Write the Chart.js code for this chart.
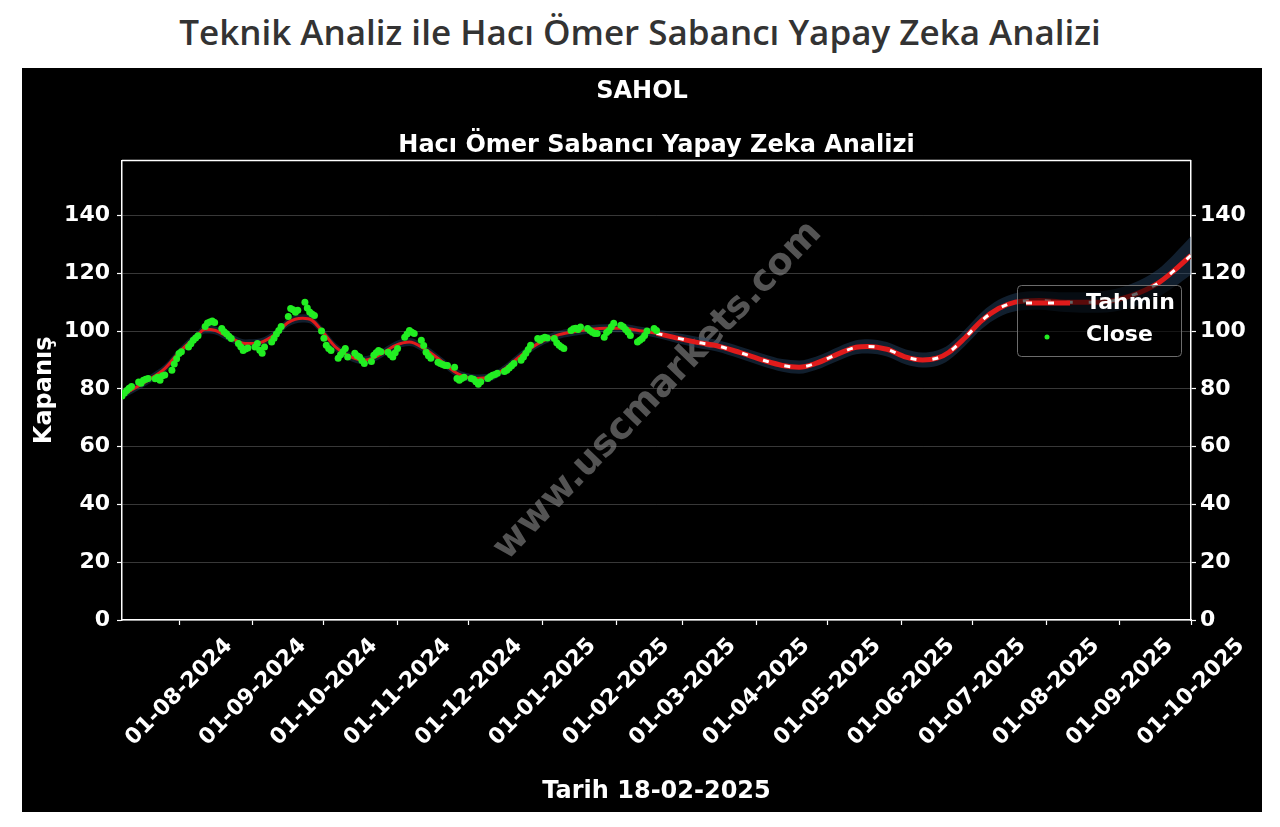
<!DOCTYPE html>
<html lang="tr">
<head>
<meta charset="utf-8">
<title>SAHOL Yapay Zeka Analizi</title>
<script src="https://cdn.jsdelivr.net/npm/chart.js@4.4.1/dist/chart.umd.min.js"></script>
<style>
  body { margin: 0; background: #fff; width: 1280px; height: 827px; overflow: hidden; }
  h1 { position: absolute; left: 0; top: 0; width: 1280px; margin: 0; text-align: center;
       font-family: 'Open Sans', sans-serif; font-weight: 600; font-size: 35px; line-height: 64px; color: #333; }
  #box { position: absolute; left: 22px; top: 68px; width: 1240px; height: 744px; background: #000; }
</style>
</head>
<body>
<h1>Teknik Analiz ile Hacı Ömer Sabancı Yapay Zeka Analizi</h1>
<div id="box"><canvas id="chart" width="1240" height="744"></canvas></div>
<script>
// close prices, one per trading day starting from closeStart
const closeStart = '2024-07-08'
const closeValues = [
  77.5, 78.6, 79.4, 80.2, 80.8,
  82.4, 81.9, 83.0, 83.3, 83.6,
  83.5, 84.0, 83.0, 84.5, 84.8,
  86.4, 88.6, 90.4, 92.2, 92.8,
  94.5, 95.6, 96.8, 97.6, 98.4,
  101.6, 102.8, 103.1, 103.5, 103.0,
  100.9, 99.8, 99.1, 98.2, 97.4,
  95.7, 94.6, 93.3, 93.8, 94.1,
  94.5, 95.7, 93.4, 92.3, 94.5,
  96.2, 97.5, 99.0, 100.2, 101.6,
  105.0, 107.8, 107.4, 106.5, 107.2,
  110.0, 108.0, 106.6, 105.9, 105.4,
  100.0, 97.5, 95.1, 94.0, 93.3,
  90.6, 91.8, 92.8, 94.0, 91.0,
  92.3, 91.5, 91.0, 89.8, 88.8,
  89.5, 91.6, 92.5, 93.3, 92.8,
  92.7, 91.8, 91.0, 92.5, 94.0,
  97.9, 99.0, 100.2, 99.6, 99.2,
  96.8, 95.0, 92.7, 91.5, 90.6,
  89.2, 88.8, 88.4, 88.1, 88.1,
  87.5, 83.6, 83.0, 83.6, 84.0,
  83.6, 83.3, 82.5, 81.6, 82.5,
  83.6, 84.2, 84.7, 85.0, 85.4,
  86.0, 86.4, 87.2, 88.0, 88.8,
  89.9, 91.0, 92.3, 93.6, 95.1,
  97.4, 96.8, 97.5, 97.9, 97.6,
  97.4, 96.0, 95.1, 94.5, 94.0,
  100.2, 100.8, 101.0, 100.5, 101.4,
  100.9, 100.2, 99.6, 99.2, 99.2,
  97.9, 99.5, 100.2, 101.5, 102.7,
  102.0, 101.5, 100.5, 99.7, 98.5,
  96.2, 96.8, 97.4, 98.5, 100.0,
  100.9, 100.2
]

// model line (Tahmin)
const tahminDates = [
  '2024-07-08', '2024-07-19', '2024-07-26', '2024-08-01', '2024-08-08', '2024-08-12', '2024-08-16',
  '2024-08-22', '2024-08-29', '2024-09-04', '2024-09-11', '2024-09-16', '2024-09-22', '2024-09-26',
  '2024-09-30', '2024-10-06', '2024-10-11', '2024-10-18', '2024-10-24', '2024-10-31', '2024-11-06',
  '2024-11-12', '2024-11-19', '2024-11-26', '2024-12-04', '2024-12-10', '2024-12-17', '2024-12-23',
  '2024-12-31', '2025-01-07', '2025-01-13', '2025-01-21', '2025-01-28', '2025-02-04', '2025-02-12',
  '2025-02-18', '2025-02-25', '2025-03-07', '2025-03-15', '2025-03-25', '2025-04-04', '2025-04-12',
  '2025-04-19', '2025-04-26', '2025-05-06', '2025-05-13', '2025-05-18', '2025-05-26', '2025-06-03',
  '2025-06-10', '2025-06-16', '2025-06-21', '2025-06-28', '2025-07-05', '2025-07-12', '2025-07-19',
  '2025-07-29', '2025-08-09', '2025-08-23', '2025-09-06', '2025-09-17', '2025-09-24', '2025-10-01'
]
const tahminValues = [
  77.8, 83.0, 87.0, 92.6, 97.9, 100.6, 100.3,
  97.9, 95.7, 96.0, 99.2, 103.0, 104.4, 103.7,
  100.2, 94.4, 91.6, 89.9, 91.6, 95.0, 96.2,
  94.0, 89.9, 85.4, 83.6, 84.0, 87.5, 91.6,
  96.1, 98.5, 99.6, 100.6, 101.0, 101.0, 100.0,
  99.2, 97.9, 96.1, 95.0, 92.6, 89.9, 88.1,
  87.5, 88.8, 92.3, 94.4, 94.7, 93.7, 91.0,
  90.0, 90.6, 92.6, 97.8, 103.7, 107.8, 110.0,
  110.6, 110.0, 110.0, 112.3, 116.5, 121.0, 126.2
]
// half width of the shaded band around Tahmin
const bandWidth = [
  1.4, 1.4, 1.4, 1.4, 1.4, 1.4, 1.4,
  1.4, 1.4, 1.4, 1.4, 1.4, 1.4, 1.4,
  1.4, 1.4, 1.4, 1.4, 1.4, 1.4, 1.4,
  1.4, 1.4, 1.4, 1.4, 1.4, 1.4, 1.4,
  1.4, 1.4, 1.4, 1.4, 1.4, 1.4, 1.4,
  1.5, 1.7, 1.9, 2.0, 2.1, 2.2, 2.2,
  2.3, 2.3, 2.4, 2.4, 2.5, 2.5, 2.6,
  2.6, 2.7, 2.7, 2.8, 2.9, 3.0, 3.1,
  3.2, 3.4, 3.7, 4.1, 4.8, 5.7, 6.6
]
const forecastStart = '2025-02-18'

const monthTicks = [
  '2024-08-01', '2024-09-01', '2024-10-01', '2024-11-01', '2024-12-01', '2025-01-01', '2025-02-01',
  '2025-03-01', '2025-04-01', '2025-05-01', '2025-06-01', '2025-07-01', '2025-08-01', '2025-09-01',
  '2025-10-01'
]
const yTicks = [0, 20, 40, 60, 80, 100, 120, 140]

const ts = s => Date.parse(s)
const pad = n => String(n).padStart(2, '0')
const fmtDate = v => {
  const d = new Date(v)
  return pad(d.getUTCDate()) + '-' + pad(d.getUTCMonth() + 1) + '-' + d.getUTCFullYear()
}
// weekdays only
const tradingDays = (start, n) => {
  const out = []
  let t = ts(start)
  while (out.length < n) {
    const wd = new Date(t).getUTCDay()
    if (wd !== 0 && wd !== 6) out.push(t)
    t += 86400000
  }
  return out
}

const closeDates = tradingDays(closeStart, closeValues.length)
const closePts = closeValues.map((v, i) => ({ x: closeDates[i], y: v }))
const tahminPts = tahminDates.map((d, i) => ({ x: ts(d), y: tahminValues[i] }))
const pastPts = tahminPts.filter(p => p.x <= ts(forecastStart))
const futurePts = tahminPts.filter(p => p.x >= ts(forecastStart))
const upperPts = tahminPts.map((p, i) => ({ x: p.x, y: p.y + bandWidth[i] }))
const lowerPts = tahminPts.map((p, i) => ({ x: p.x, y: p.y - bandWidth[i] }))

const FONT = 'DejaVu Sans'
const RED = '#e01b1b'
const GREEN = '#22ee22'
const tickFont = { family: FONT, size: 22, weight: 'bold' }
const titleFont = { family: FONT, size: 24, weight: 'bold' }

const decor = {
  id: 'decor',
  beforeDatasetsDraw(chart) {
    const ctx = chart.ctx
    ctx.save()
    ctx.translate(636, 323)
    ctx.rotate(-46 * Math.PI / 180)
    ctx.font = 'bold 37px "DejaVu Sans"'
    ctx.fillStyle = 'rgba(140,140,140,0.6)'
    ctx.textAlign = 'center'
    ctx.textBaseline = 'middle'
    ctx.fillText('www.uscmarkets.com', 0, 0)
    ctx.restore()
  },
  afterDraw(chart) {
    const ctx = chart.ctx
    const a = chart.chartArea
    ctx.save()
    // top spine
    ctx.strokeStyle = '#fff'
    ctx.lineWidth = 1.5
    ctx.beginPath()
    ctx.moveTo(a.left, a.top)
    ctx.lineTo(a.right, a.top)
    ctx.stroke()
    // legend
    ctx.fillStyle = 'rgba(0,0,0,0.6)'
    ctx.strokeStyle = 'rgba(120,120,120,0.9)'
    ctx.lineWidth = 1
    ctx.beginPath()
    ctx.roundRect(995.5, 217.5, 164, 71, 4)
    ctx.fill()
    ctx.stroke()
    ctx.lineWidth = 5
    ctx.strokeStyle = RED
    ctx.beginPath()
    ctx.moveTo(1004, 235)
    ctx.lineTo(1048, 235)
    ctx.stroke()
    ctx.lineWidth = 3
    ctx.strokeStyle = '#fff'
    ctx.setLineDash([6, 16])
    ctx.beginPath()
    ctx.moveTo(1004, 235)
    ctx.lineTo(1048, 235)
    ctx.stroke()
    ctx.setLineDash([])
    ctx.fillStyle = GREEN
    ctx.beginPath()
    ctx.arc(1025, 269, 2.5, 0, Math.PI * 2)
    ctx.fill()
    ctx.fillStyle = '#fff'
    ctx.font = 'bold 22px "DejaVu Sans"'
    ctx.textBaseline = 'middle'
    ctx.fillText('Tahmin', 1064, 235)
    ctx.fillText('Close', 1064, 267)
    ctx.restore()
  }
}

const yAxis = (pos, width, pad) => ({
  position: pos,
  min: 0,
  max: 159,
  afterBuildTicks: s => { s.ticks = yTicks.map(v => ({ value: v })) },
  afterFit: s => { s.width = width },
  ticks: { color: '#fff', font: tickFont, padding: pad },
  border: { color: '#fff', width: 1.5 },
  grid: pos === 'left'
    ? { color: 'rgba(255,255,255,0.22)', lineWidth: 1, tickLength: 5, tickColor: '#fff', tickWidth: 1.2 }
    : { drawOnChartArea: false, tickLength: 5, tickColor: '#fff', tickWidth: 1.2 }
})

new Chart(document.getElementById('chart'), {
  type: 'line',
  data: {
    datasets: [
      { label: 'band', data: upperPts, borderWidth: 0, pointRadius: 0, cubicInterpolationMode: 'monotone', order: 5, fill: false },
      { label: 'band2', data: lowerPts, borderWidth: 0, pointRadius: 0, cubicInterpolationMode: 'monotone', order: 4,
        fill: '-1', backgroundColor: 'rgba(40,75,110,0.42)' },
      { label: 'Tahmin', data: pastPts, borderColor: RED, borderWidth: 3, pointRadius: 0, cubicInterpolationMode: 'monotone', order: 3 },
      { label: 'Tahmin2', data: futurePts, borderColor: RED, borderWidth: 5, pointRadius: 0, cubicInterpolationMode: 'monotone', order: 2 },
      { label: 'Tahmin3', data: futurePts, borderColor: '#fff', borderWidth: 3, borderDash: [6, 16], pointRadius: 0, cubicInterpolationMode: 'monotone', order: 1 },
      { label: 'Close', data: closePts, showLine: false, pointRadius: 3.5, pointBorderWidth: 0, pointBackgroundColor: GREEN, order: 0 }
    ]
  },
  options: {
    responsive: false,
    animation: false,
    events: [],
    layout: { padding: 0 },
    scales: {
      x: {
        type: 'linear',
        min: ts('2024-07-08'),
        max: ts('2025-10-01'),
        afterBuildTicks: s => { s.ticks = monthTicks.map(m => ({ value: ts(m) })) },
        afterFit: s => { s.height = 192 },
        ticks: { autoSkip: false, minRotation: 45, maxRotation: 45, labelOffset: 50, padding: 8,
                 color: '#fff', font: tickFont, callback: v => fmtDate(v) },
        grid: { drawOnChartArea: false, tickLength: 5, tickColor: '#fff', tickWidth: 1.2 },
        border: { color: '#fff', width: 1.5 },
        title: { display: true, text: 'Tarih 18-02-2025', color: '#fff', font: titleFont, padding: { top: 0, bottom: 6 } }
      },
      y: Object.assign(yAxis('left', 100, 7), {
        title: { display: true, text: 'Kapanış', color: '#fff', font: titleFont, padding: { top: 8, bottom: 0 } }
      }),
      y2: yAxis('right', 71, 4)
    },
    plugins: {
      legend: { display: false },
      tooltip: { enabled: false },
      title: { display: true, text: 'SAHOL', color: '#fff', font: titleFont, padding: { top: 9, bottom: 8 } },
      subtitle: { display: true, fullSize: false, text: 'Hacı Ömer Sabancı Yapay Zeka Analizi', color: '#fff',
                  font: titleFont, padding: { top: 18, bottom: 0 } }
    }
  },
  plugins: [decor]
})
</script>
</body>
</html>
